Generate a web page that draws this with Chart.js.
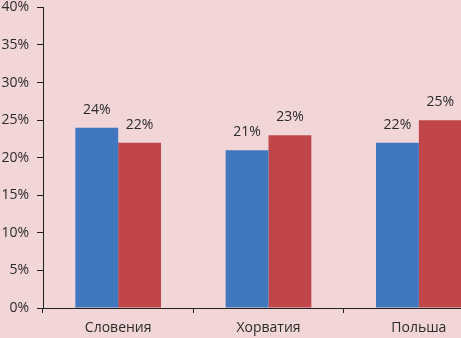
<!DOCTYPE html>
<html>
<head>
<meta charset="utf-8">
<script src="https://cdn.jsdelivr.net/npm/chart.js@4"></script>
<style>
  html, body { margin: 0; padding: 0; background: #f2d5d7; overflow: hidden; }
  #wrap { width: 494px; height: 347px; position: relative; top: -9px; }
</style>
</head>
<body>
<div id="wrap"><canvas id="chart"></canvas></div>
<script>
// данные диаграммы
const countries = ["Словения", "Хорватия", "Польша"];
const series1 = [24, 21, 22];
const series2 = [22, 23, 25];
const yTicks = [0, 5, 10, 15, 20, 25, 30, 35, 40];

const textColor = "#2b2b2b";
const axisColor = "#222";

// подписи значений над столбиками
const valueLabels = {
    id: "valueLabels",
    afterDatasetsDraw(chart) {
        const ctx = chart.ctx;
        ctx.save();
        ctx.font = "14px 'Open Sans'";
        ctx.fillStyle = textColor;
        ctx.textAlign = "center";
        ctx.textBaseline = "alphabetic";
        chart.data.datasets.forEach((ds, i) => {
            chart.getDatasetMeta(i).data.forEach((bar, j) => {
                ctx.fillText(ds.data[j] + "%", bar.x, bar.y - 14);
            });
        });
        ctx.restore();
    }
};

new Chart(document.getElementById("chart"), {
    type: "bar",
    data: {
        labels: countries,
        datasets: [
            { data: series1, backgroundColor: "#4177bf", categoryPercentage: 0.57, barPercentage: 1 },
            { data: series2, backgroundColor: "#c0464a", categoryPercentage: 0.57, barPercentage: 1 }
        ]
    },
    options: {
        responsive: true,
        maintainAspectRatio: false,
        animation: false,
        layout: { padding: { top: 6, right: 0, left: 0, bottom: 0 } },
        plugins: { legend: { display: false }, tooltip: { enabled: false } },
        scales: {
            x: {
                grid: { drawOnChartArea: false, tickLength: 5, color: axisColor },
                border: { color: axisColor, width: 1 },
                ticks: { color: textColor, font: { family: "Open Sans", size: 14 }, padding: 7 },
                afterFit(scale) { scale.height = 30; }
            },
            y: {
                min: 0,
                max: 40,
                afterBuildTicks(scale) { scale.ticks = yTicks.map(v => ({ value: v })); },
                grid: { drawOnChartArea: false, tickLength: 6, color: axisColor },
                border: { color: axisColor, width: 1 },
                ticks: {
                    color: textColor,
                    font: { family: "Open Sans", size: 14 },
                    padding: 8,
                    callback: v => v + "%"
                },
                afterFit(scale) { scale.width = 43; }
            }
        }
    },
    plugins: [valueLabels]
});
</script>
</body>
</html>
